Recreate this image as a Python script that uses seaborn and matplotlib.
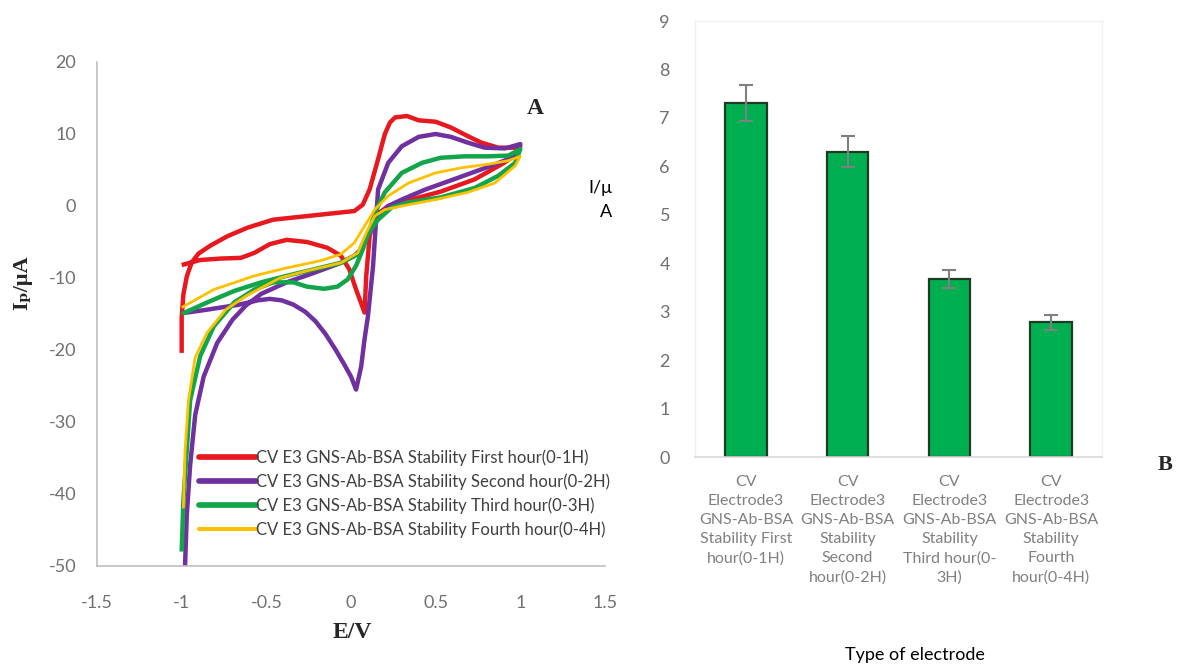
import numpy as np
import pandas as pd
import matplotlib
matplotlib.use("Agg")
import matplotlib.pyplot as plt
import seaborn as sns
from matplotlib.lines import Line2D

# ---------------- data ----------------
# Cyclic voltammograms (E in V, I in uA), each drawn as one continuous trace
red_E = [-1.0, -1.0, -0.99, -0.97, -0.94, -0.90, -0.83, -0.73, -0.61, -0.46, -0.26, -0.10, 0.02, 0.07,
         0.11, 0.16, 0.20, 0.23, 0.26, 0.33, 0.40, 0.50, 0.59, 0.69, 0.77, 0.87, 0.97, 1.0,
         0.97, 0.89, 0.73, 0.53, 0.34, 0.22, 0.14, 0.11, 0.09, 0.08,
         0.03, -0.01, -0.06, -0.14, -0.26, -0.38, -0.48, -0.57, -0.65, -0.77, -0.89, -1.0]
red_I = [-20.4, -15.5, -12.3, -9.8, -7.8, -6.6, -5.5, -4.2, -3.0, -1.9, -1.4, -1.0, -0.7, 0.2,
         2.3, 6.5, 10.0, 11.6, 12.3, 12.5, 11.9, 11.7, 10.9, 9.7, 8.8, 8.1, 8.1, 8.3,
         7.0, 5.8, 3.7, 2.0, 0.8, 0.0, -1.4, -4.2, -9.7, -14.8,
         -11.6, -8.8, -6.9, -5.8, -5.0, -4.7, -5.3, -6.5, -7.2, -7.3, -7.5, -8.2]

purple_E = [-1.0, -0.85, -0.66, -0.55, -0.48, -0.41, -0.34, -0.27, -0.21, -0.15, -0.09, -0.04, 0.0,
            0.03, 0.06, 0.08, 0.10, 0.13, 0.16, 0.22, 0.30, 0.40, 0.50, 0.59, 0.69, 0.79, 0.91, 1.0,
            0.97, 0.83, 0.63, 0.44, 0.30, 0.22, 0.16, 0.12, 0.06, 0.02, -0.06, -0.22, -0.38,
            -0.53, -0.62, -0.70, -0.79, -0.87, -0.92, -0.95, -0.97, -0.98]
purple_I = [-14.9, -14.4, -13.7, -13.1, -12.9, -13.1, -13.7, -14.7, -16.0, -17.8, -20.0, -22.0, -23.7,
            -25.5, -22.3, -18.5, -15.3, -8.4, 2.3, 6.0, 8.3, 9.6, 10.0, 9.6, 8.8, 8.1, 8.0, 8.6,
            6.9, 5.6, 3.9, 2.3, 0.9, 0.0, -1.4, -3.2, -6.0, -6.9, -7.9, -9.3, -10.6,
            -12.2, -13.8, -15.8, -19.0, -23.7, -29.0, -36.0, -43.0, -50.0]

green_E = [-1.0, -0.99, -0.97, -0.95, -0.89, -0.81, -0.69, -0.57, -0.46, -0.34, -0.26, -0.16, -0.08,
           -0.02, 0.03, 0.07, 0.11, 0.15, 0.20, 0.30, 0.42, 0.53, 0.67, 0.81, 0.93, 1.0,
           0.97, 0.87, 0.73, 0.53, 0.34, 0.24, 0.16, 0.09, 0.04, -0.06, -0.22, -0.38, -0.53,
           -0.69, -0.85, -1.0]
green_I = [-48.0, -41.0, -34.0, -27.0, -20.8, -16.7, -13.4, -11.6, -10.6, -10.6, -11.2, -11.5, -11.2,
           -10.2, -8.3, -6.0, -3.2, -0.5, 1.9, 4.6, 6.0, 6.7, 6.9, 6.9, 7.0, 7.9,
           6.0, 4.2, 2.5, 1.2, 0.5, -0.2, -1.9, -4.2, -6.7, -7.9, -8.8, -9.7, -10.6,
           -11.8, -13.4, -15.0]

yellow_E = [-0.99, -0.98, -0.96, -0.92, -0.85, -0.74, -0.62, -0.50, -0.42, -0.26, -0.06, 0.04, 0.09,
            0.14, 0.20, 0.30, 0.50, 0.69, 0.85, 0.97, 1.0,
            0.93, 0.81, 0.65, 0.50, 0.34, 0.22, 0.14, 0.08, 0.02, -0.06, -0.18, -0.38, -0.57,
            -0.81, -1.0]
yellow_I = [-42.0, -34.0, -27.0, -21.0, -17.6, -14.4, -12.5, -11.0, -10.0, -9.0, -7.9, -6.5, -3.7,
            -1.4, -0.5, 0.0, 0.9, 1.9, 3.2, 5.6, 6.9,
            6.3, 5.8, 5.3, 4.6, 3.2, 1.4, -0.5, -2.8, -5.1, -6.7, -7.6, -8.6, -9.7,
            -11.6, -14.1]

series_names = ["CV E3 GNS-Ab-BSA Stability First hour(0-1H)",
                "CV E3 GNS-Ab-BSA Stability Second hour(0-2H)",
                "CV E3 GNS-Ab-BSA Stability Third hour(0-3H)",
                "CV E3 GNS-Ab-BSA Stability Fourth hour(0-4H)"]

# Peak currents per electrode
bar_labels = ["CV\nElectrode3\nGNS-Ab-BSA\nStability First\nhour(0-1H)",
              "CV\nElectrode3\nGNS-Ab-BSA\nStability\nSecond\nhour(0-2H)",
              "CV\nElectrode3\nGNS-Ab-BSA\nStability\nThird hour(0-\n3H)",
              "CV\nElectrode3\nGNS-Ab-BSA\nStability\nFourth\nhour(0-4H)"]
bar_values = [7.30, 6.30, 3.68, 2.78]
bar_errors = [0.37, 0.32, 0.19, 0.15]

x_ticks = [-1.5, -1.0, -0.5, 0.0, 0.5, 1.0, 1.5]
x_tick_labels = ["-1.5", "-1", "-0.5", "0", "0.5", "1", "1.5"]
y_ticks = [-50, -40, -30, -20, -10, 0, 10, 20]

# ---------------- styling ----------------
sns.set_theme(style="white")
plt.rcParams["font.family"] = ["Lato", "DejaVu Sans"]
plt.rcParams["axes.unicode_minus"] = False
SERIF = ["Liberation Serif", "DejaVu Serif"]
TICK_GRAY = "#707070"
AXIS_GRAY = "#BFBFBF"

colors = ["#E8191E", "#7030A0", "#12A54A", "#FFC000"]
widths = [3.2, 3.2, 3.2, 2.0]

fig = plt.figure(figsize=(11.9, 6.69), dpi=100)
W, H = 1190, 669

def px(x, y):
    return x / W, 1 - y / H

# ---------------- panel A: voltammograms ----------------
ax1 = fig.add_axes([97 / W, 1 - 566 / H, (605 - 97) / W, (566 - 62) / H])
curves = [(red_E, red_I), (purple_E, purple_I), (green_E, green_I), (yellow_E, yellow_I)]
for (E, I), name, c, lw in zip(curves, series_names, colors, widths):
    df = pd.DataFrame({"E": E, "I": I})
    sns.lineplot(data=df, x="E", y="I", sort=False, estimator=None, color=c,
                 linewidth=lw, ax=ax1, solid_joinstyle="round", solid_capstyle="butt")

ax1.set_xlim(-1.5, 1.5)
ax1.set_ylim(-50, 20)
ax1.set_xticks(x_ticks)
ax1.set_xticklabels(x_tick_labels)
ax1.set_yticks(y_ticks)
ax1.tick_params(axis="both", length=0, labelsize=13, labelcolor=TICK_GRAY)
ax1.tick_params(axis="x", pad=21)
ax1.tick_params(axis="y", pad=15)
ax1.set_xlabel("")
ax1.set_ylabel("")
for s in ["top", "right"]:
    ax1.spines[s].set_visible(False)
for s in ["left", "bottom"]:
    ax1.spines[s].set_color(AXIS_GRAY)
    ax1.spines[s].set_linewidth(1.2)

handles = [Line2D([0], [0], color=c, lw=lw + 0.9) for c, lw in zip(colors, widths)]
leg = ax1.legend(handles, series_names, loc="upper left",
                 bbox_to_anchor=px(199, 449), bbox_transform=fig.transFigure,
                 frameon=False, fontsize=12, handlelength=3.4, handletextpad=0.05,
                 labelspacing=0.45, borderpad=0, borderaxespad=0)
for t in leg.get_texts():
    t.set_color("#404040")

fig.text(*px(535, 108), "A", family=SERIF, fontweight="bold", fontsize=17,
         ha="center", va="center")
fig.text(*px(22, 283), "Iₚ/μA", family=SERIF, fontweight="bold", fontsize=16,
         rotation=90, ha="center", va="center")
fig.text(*px(352, 633), "E/V", family=SERIF, fontweight="bold", fontsize=17,
         ha="center", va="center")

# ---------------- panel B: peak currents ----------------
ax2 = fig.add_axes([695 / W, 1 - 457 / H, (1102 - 695) / W, (457 - 21) / H])
bdf = pd.DataFrame({"electrode": bar_labels, "current": bar_values})
sns.barplot(data=bdf, x="electrode", y="current", color="#00B050", saturation=1,
            width=0.41, edgecolor="#1C3B22", linewidth=1.6, errorbar=None, ax=ax2)
ax2.errorbar(np.arange(len(bar_values)), bar_values, yerr=bar_errors, fmt="none",
             ecolor="#808080", elinewidth=1.5, capsize=5, capthick=1.5)
ax2.set_xlim(-0.5, 3.5)
ax2.set_ylim(0, 9)
ax2.set_yticks(range(0, 10))
ax2.set_xlabel("")
ax2.set_ylabel("")
ax2.tick_params(axis="both", length=0, labelcolor=TICK_GRAY)
ax2.tick_params(axis="y", labelsize=13, pad=18)
ax2.tick_params(axis="x", labelsize=11.5, pad=13, labelcolor="#808080")
for t in ax2.get_xticklabels():
    t.set_linespacing(1.45)
for s in ["top", "right", "left"]:
    ax2.spines[s].set_color("#F0F0F0")
    ax2.spines[s].set_linewidth(1.0)
ax2.spines["bottom"].set_color("#D9D9D9")
ax2.spines["bottom"].set_linewidth(1.2)

fig.text(*px(612, 200), "I/μ\nA", fontsize=13, color="black", ha="right", va="center",
         multialignment="right", linespacing=1.6)
fig.text(*px(915, 655), "Type of electrode", fontsize=13, color="black",
         ha="center", va="center")
fig.text(*px(1165, 465), "B", family=SERIF, fontweight="bold", fontsize=16,
         ha="center", va="center")

fig.savefig("out.png", dpi=100, facecolor="white")
